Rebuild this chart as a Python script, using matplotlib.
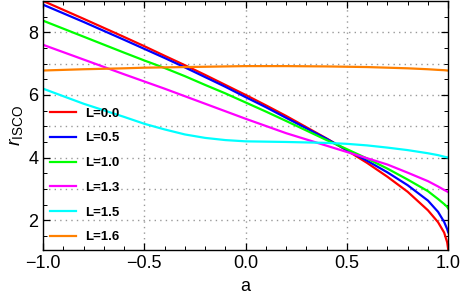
import matplotlib
matplotlib.use("Agg")
import matplotlib.pyplot as plt
from matplotlib.ticker import MultipleLocator

plt.rcParams["font.family"] = ["Liberation Sans", "DejaVu Sans"]
plt.rcParams["mathtext.fontset"] = "custom"
plt.rcParams["mathtext.rm"] = "Liberation Sans"
plt.rcParams["mathtext.it"] = "Liberation Sans:italic"

# spin parameter a
a = [-1.0, -0.8, -0.6, -0.5, -0.4, -0.3, -0.2, -0.1, 0.0, 0.1, 0.2, 0.4, 0.5, 0.6, 0.7, 0.8, 0.9,
     0.95, 0.98, 0.995, 1.0]

# r_ISCO for each L
r_L00 = [9.0, 8.43, 7.85, 7.555, 7.25, 6.95, 6.64, 6.32, 6.0, 5.67, 5.33, 4.61, 4.23, 3.83, 3.39,
         2.91, 2.32, 1.94, 1.61, 1.3, 1.08]
r_L05 = [8.88, 8.33, 7.76, 7.47, 7.18, 6.88, 6.57, 6.26, 5.93, 5.61, 5.27, 4.6, 4.24, 3.9, 3.53,
         3.12, 2.63, 2.27, 1.95, 1.72, 1.62]
r_L10 = [8.37, 7.86, 7.35, 7.1, 6.86, 6.6, 6.32, 6.05, 5.76, 5.47, 5.17, 4.56, 4.27, 3.97, 3.65,
         3.3, 2.93, 2.68, 2.52, 2.43, 2.38]
r_L13 = [7.6, 7.13, 6.66, 6.43, 6.2, 5.96, 5.72, 5.48, 5.24, 5.01, 4.78, 4.38, 4.18, 3.98, 3.78,
         3.52, 3.25, 3.08, 2.97, 2.92, 2.9]
r_L15 = [6.2, 5.72, 5.3, 5.08, 4.9, 4.74, 4.63, 4.56, 4.52, 4.51, 4.5, 4.47, 4.44, 4.39, 4.32,
         4.24, 4.14, 4.08, 4.03, 4.01, 4.0]
r_L16 = [6.78, 6.82, 6.85, 6.87, 6.88, 6.89, 6.9, 6.91, 6.92, 6.92, 6.92, 6.91, 6.9, 6.89, 6.87,
         6.85, 6.82, 6.8, 6.79, 6.78, 6.78]

labels = ["L=0.0", "L=0.5", "L=1.0", "L=1.3", "L=1.5", "L=1.6"]
colors = ["#ff0000", "#0000ff", "#00ff00", "#ff00ff", "#00ffff", "#ff8000"]
series = [r_L00, r_L05, r_L10, r_L13, r_L15, r_L16]

fig = plt.figure(figsize=(4.63, 3.08), dpi=100)
ax = fig.add_axes([0.093, 0.188, 0.875, 0.809])

for r, c, lab in zip(series, colors, labels):
    ax.plot(a, r, color=c, lw=1.6, label=lab)

ax.set_xlim(-1.0, 1.0)
ax.set_ylim(1.05, 9.0)

ax.xaxis.set_major_locator(MultipleLocator(0.5))
ax.xaxis.set_minor_locator(MultipleLocator(0.1))
ax.yaxis.set_major_locator(MultipleLocator(2))
ax.yaxis.set_minor_locator(MultipleLocator(0.5))
ax.tick_params(which="both", direction="in", top=True, right=True, labelsize=13, colors="black")
ax.tick_params(which="major", length=5, width=0.9)
ax.tick_params(which="minor", length=3, width=0.7)
ax.set_xticks([-1.0, -0.5, 0.0, 0.5, 1.0])
ax.set_xticklabels(["\u22121.0", "\u22120.5", "0.0", "0.5", "1.0"])

# dotted grid
for x in [-0.5, 0.0, 0.5]:
    ax.axvline(x, color="#999999", lw=1.0, ls=(0, (1, 3)), zorder=0)
for y in range(2, 9):
    ax.axhline(y, color="#999999", lw=1.0, ls=(0, (1, 3)), zorder=0)

for s in ax.spines.values():
    s.set_linewidth(1.0)

ax.set_xlabel("a", fontsize=13, labelpad=4)
ax.set_ylabel(r"$r_{\mathrm{ISCO}}$", fontsize=14, labelpad=2)

ax.legend(loc="lower left", bbox_to_anchor=(0.0, 0.0), frameon=False,
          prop={"weight": "bold", "size": 9.5}, handlelength=2.0,
          labelspacing=0.95, handletextpad=0.7, borderaxespad=0.1)

fig.savefig("out.png", dpi=100)
